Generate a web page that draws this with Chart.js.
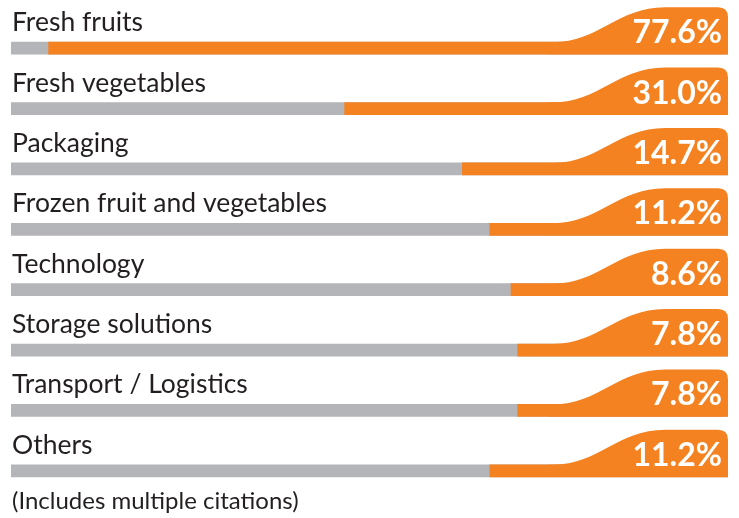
<!DOCTYPE html>
<html>
<head>
<meta charset="utf-8">
<script src="https://cdn.jsdelivr.net/npm/chart.js@4.4.1/dist/chart.umd.min.js"></script>
<style>
  html, body { margin: 0; padding: 0; background: #ffffff; }
  #wrap { position: relative; width: 739px; height: 518px; }
  canvas { display: block; }
</style>
</head>
<body>
<div id="wrap"><canvas id="c" width="739" height="518"></canvas></div>
<script>
// ---- Data ----
const categories = [
  "Fresh fruits",
  "Fresh vegetables",
  "Packaging",
  "Frozen fruit and vegetables",
  "Technology",
  "Storage solutions",
  "Transport / Logistics",
  "Others"
];
const shares = [77.6, 31.0, 14.7, 11.2, 8.6, 7.8, 7.8, 11.2];
const valueLabels = ["77.6%", "31.0%", "14.7%", "11.2%", "8.6%", "7.8%", "7.8%", "11.2%"];
const footnote = "(Includes multiple citations)";

// ---- Scale mapping (the original uses a compressed, offset bar length) ----
const EXP = 0.85;          // compression of the value
const TAB_UNITS = 9.81;    // length reserved for the label tab
const AXIS_MAX = 52.99;    // full bar length
const orangeBars = shares.map(v => [AXIS_MAX - TAB_UNITS - Math.pow(v, EXP), AXIS_MAX]);
const greyBars = shares.map(() => [0, AXIS_MAX]);

const ORANGE = "#f48221";
const GREY = "#b4b5b8";
const TEXT = "#231f20";

const tabPlugin = {
  id: "tabs",
  afterDatasetsDraw(chart) {
    const ctx = chart.ctx;
    const meta = chart.getDatasetMeta(0);
    ctx.save();
    meta.data.forEach((bar, i) => {
      const R = bar.x;
      const h = bar.height;
      const T = bar.y - h / 2;
      const B = bar.y + h / 2;
      const top = T - 35;
      const rT = 10, rB = 6;
      ctx.beginPath();
      ctx.moveTo(R - 180, B);
      ctx.lineTo(R - 180, T);
      ctx.lineTo(R - 175, T);
      ctx.bezierCurveTo(R - 130, T, R - 110, top, R - 63, top);
      ctx.lineTo(R - rT, top);
      ctx.quadraticCurveTo(R, top, R, top + rT);
      ctx.lineTo(R, B - rB);
      ctx.quadraticCurveTo(R, B, R - rB, B);
      ctx.closePath();
      ctx.fillStyle = ORANGE;
      ctx.fill();

      // value label
      ctx.fillStyle = "#ffffff";
      ctx.font = "bold 32px Lato";
      ctx.textAlign = "right";
      ctx.textBaseline = "alphabetic";
      ctx.fillText(valueLabels[i], R - 6, B - 11);

      // category label
      ctx.fillStyle = TEXT;
      ctx.font = "26.5px Lato";
      ctx.textAlign = "left";
      ctx.fillText(categories[i], chart.chartArea.left + 1, T - 11);
    });
    ctx.fillStyle = TEXT;
    ctx.font = "24px Lato";
    ctx.textAlign = "left";
    ctx.fillText(footnote, chart.chartArea.left + 1, 509);
    ctx.restore();
  }
};

new Chart(document.getElementById("c"), {
  type: "bar",
  data: {
    labels: categories,
    datasets: [
      { label: "Share", data: orangeBars, backgroundColor: ORANGE, barThickness: 12, grouped: false, borderSkipped: false },
      { label: "Base", data: greyBars, backgroundColor: GREY, barThickness: 12, grouped: false }
    ]
  },
  options: {
    indexAxis: "y",
    responsive: false,
    animation: false,
    layout: { padding: { left: 11, right: 11, top: 18, bottom: 17 } },
    scales: {
      x: { display: false, min: 0, max: AXIS_MAX },
      y: { display: false }
    },
    plugins: { legend: { display: false }, tooltip: { enabled: false } }
  },
  plugins: [tabPlugin]
});
</script>
</body>
</html>
